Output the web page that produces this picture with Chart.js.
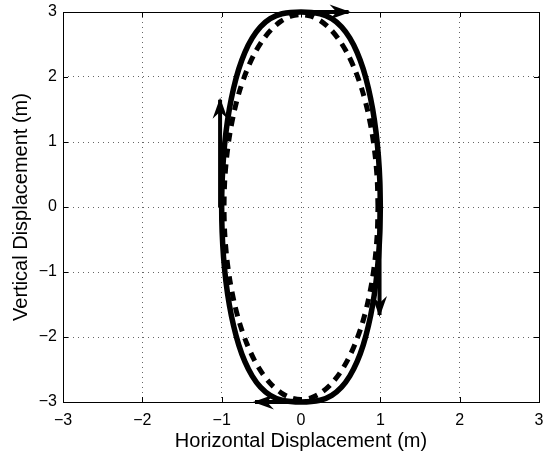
<!DOCTYPE html>
<html>
<head>
<meta charset="utf-8">
<script src="https://cdn.jsdelivr.net/npm/chart.js@4/dist/chart.umd.min.js"></script>
<style>
  body { margin: 0; background: #fff; }
  #wrap { width: 543px; height: 458px; }
</style>
</head>
<body>
<div id="wrap"><canvas id="orbit" width="543" height="458"></canvas></div>
<script>
// tick values and labels
const xTickValues = [-3, -2, -1, 0, 1, 2, 3];
const xTickLabels = ['\u22123', '\u22122', '\u22121', '0', '1', '2', '3'];
const yTickValues = [-3, -2, -1, 0, 1, 2, 3];
const yTickLabels = ['\u22123', '\u22122', '\u22121', '0', '1', '2', '3'];

// solid path
const solidX = [1, .994, .976, .946, .904, .850, .785, .707, .616, .511, .388, .240, 0,
  -.240, -.388, -.511, -.616, -.707, -.785, -.850, -.904, -.946, -.976, -.994, -1,
  -.994, -.976, -.946, -.904, -.850, -.785, -.707, -.616, -.511, -.388, -.240, 0,
  .240, .388, .511, .616, .707, .785, .850, .904, .946, .976, .994, 1];
const solidY = [0, .392, .776, 1.148, 1.5, 1.826, 2.121, 2.380, 2.598, 2.772, 2.898, 2.974, 3,
  2.974, 2.898, 2.772, 2.598, 2.380, 2.121, 1.826, 1.5, 1.148, .776, .392, 0,
  -.392, -.776, -1.148, -1.5, -1.826, -2.121, -2.380, -2.598, -2.772, -2.898, -2.974, -3,
  -2.974, -2.898, -2.772, -2.598, -2.380, -2.121, -1.826, -1.5, -1.148, -.776, -.392, 0];

// dashed path
const dashX = [.970, .962, .937, .896, .840, .770, .686, .591, .485, .371, .251, .127, 0,
  -.127, -.251, -.371, -.485, -.591, -.686, -.770, -.840, -.896, -.937, -.962, -.970,
  -.962, -.937, -.896, -.840, -.770, -.686, -.591, -.485, -.371, -.251, -.127, 0,
  .127, .251, .371, .485, .591, .686, .770, .840, .896, .937, .962, .970];
const dashY = [0, .386, .766, 1.133, 1.480, 1.802, 2.093, 2.348, 2.563, 2.735, 2.859, 2.935, 2.96,
  2.935, 2.859, 2.735, 2.563, 2.348, 2.093, 1.802, 1.480, 1.133, .766, .386, 0,
  -.386, -.766, -1.133, -1.480, -1.802, -2.093, -2.348, -2.563, -2.735, -2.859, -2.935, -2.96,
  -2.935, -2.859, -2.735, -2.563, -2.348, -2.093, -1.802, -1.480, -1.133, -.766, -.386, 0];

// direction arrows: [x0, y0, x1, y1]
const arrowTop = [0, 3, 0.6, 3];
const arrowLeft = [-1.02, 0, -1.02, 1.65];
const arrowRight = [0.99, 0, 0.99, -1.66];
const arrowBottom = [0, -3, -0.58, -3];

function toPoints(xs, ys) {
    return xs.map((x, i) => ({ x: x, y: ys[i] }));
}

function arrowSet(a) {
    return {
        data: [{ x: a[0], y: a[1] }, { x: a[2], y: a[3] }],
        borderColor: '#000',
        borderWidth: 4,
        pointRadius: 0,
        showLine: true,
        clip: false,
        arrow: true
    };
}

// box, inward ticks and arrow heads
const framePlugin = {
    id: 'frame',
    beforeDatasetsDraw(chart) {
        const { ctx, chartArea: a, scales } = chart;
        ctx.save();
        ctx.strokeStyle = '#000';
        ctx.lineWidth = 1;
        ctx.strokeRect(a.left + 0.5, a.top + 0.5, a.right - a.left, a.bottom - a.top);
        ctx.beginPath();
        xTickValues.forEach(v => {
            const px = Math.round(scales.x.getPixelForValue(v)) + 0.5;
            ctx.moveTo(px, a.bottom); ctx.lineTo(px, a.bottom - 5);
            ctx.moveTo(px, a.top); ctx.lineTo(px, a.top + 5);
        });
        yTickValues.forEach(v => {
            const py = Math.round(scales.y.getPixelForValue(v)) + 0.5;
            ctx.moveTo(a.left, py); ctx.lineTo(a.left + 5, py);
            ctx.moveTo(a.right, py); ctx.lineTo(a.right - 5, py);
        });
        ctx.stroke();
        ctx.restore();
    },
    afterDatasetsDraw(chart) {
        const ctx = chart.ctx;
        ctx.save();
        ctx.fillStyle = '#000';
        chart.data.datasets.forEach((ds, i) => {
            if (!ds.arrow) return;
            const pts = chart.getDatasetMeta(i).data;
            const p1 = pts[0], p2 = pts[pts.length - 1];
            const ang = Math.atan2(p2.y - p1.y, p2.x - p1.x);
            const dx = Math.cos(ang), dy = Math.sin(ang);
            const L = 19, W = 7.5, N = 12;
            ctx.beginPath();
            ctx.moveTo(p2.x + dx * 2, p2.y + dy * 2);
            ctx.lineTo(p2.x - dx * L - dy * W, p2.y - dy * L + dx * W);
            ctx.lineTo(p2.x - dx * N, p2.y - dy * N);
            ctx.lineTo(p2.x - dx * L + dy * W, p2.y - dy * L - dx * W);
            ctx.closePath();
            ctx.fill();
        });
        ctx.restore();
    }
};

const ctx = document.getElementById('orbit').getContext('2d');
const chart = new Chart(ctx, {
    type: 'scatter',
    data: {
        datasets: [
            {
                data: toPoints(dashX, dashY),
                borderColor: '#000',
                borderWidth: 5,
                borderDash: [9, 7],
                pointRadius: 0,
                showLine: true,
                tension: 0.3,
                clip: false
            },
            {
                data: toPoints(solidX, solidY),
                borderColor: '#000',
                borderWidth: 5.5,
                pointRadius: 0,
                showLine: true,
                tension: 0.3,
                clip: false
            },
            arrowSet(arrowTop),
            arrowSet(arrowLeft),
            arrowSet(arrowRight),
            arrowSet(arrowBottom)
        ]
    },
    options: {
        responsive: false,
        animation: false,
        layout: { padding: { top: 12, right: 4, left: 0, bottom: 0 } },
        plugins: {
            legend: { display: false },
            tooltip: { enabled: false }
        },
        scales: {
            x: {
                type: 'linear',
                min: -3,
                max: 3,
                afterFit: s => { s.height = 56; s.paddingLeft = 0; s.paddingRight = 0; },
                afterBuildTicks: s => { s.ticks = xTickValues.map(v => ({ value: v })); },
                ticks: {
                    color: '#000',
                    padding: 9,
                    maxRotation: 0,
                    font: { family: 'Liberation Sans', size: 16 },
                    callback: v => xTickLabels[xTickValues.indexOf(v)]
                },
                grid: { color: '#666', lineWidth: 1, drawTicks: false },
                border: { display: false, dash: [1, 4] },
                title: {
                    display: true,
                    text: 'Horizontal Displacement (m)',
                    color: '#000',
                    font: { family: 'Liberation Sans', size: 20 },
                    padding: { top: 0, bottom: 5 }
                }
            },
            y: {
                type: 'linear',
                min: -3,
                max: 3,
                afterFit: s => { s.width = 63; s.paddingTop = 0; s.paddingBottom = 0; },
                afterBuildTicks: s => { s.ticks = yTickValues.map(v => ({ value: v })); },
                ticks: {
                    color: '#000',
                    padding: 6,
                    font: { family: 'Liberation Sans', size: 16 },
                    callback: v => yTickLabels[yTickValues.indexOf(v)]
                },
                grid: { color: '#666', lineWidth: 1, drawTicks: false },
                border: { display: false, dash: [1, 4] },
                title: {
                    display: true,
                    text: 'Vertical Displacement (m)',
                    color: '#000',
                    font: { family: 'Liberation Sans', size: 20 },
                    padding: { top: 9, bottom: 0 }
                }
            }
        }
    },
    plugins: [framePlugin]
});
</script>
</body>
</html>
